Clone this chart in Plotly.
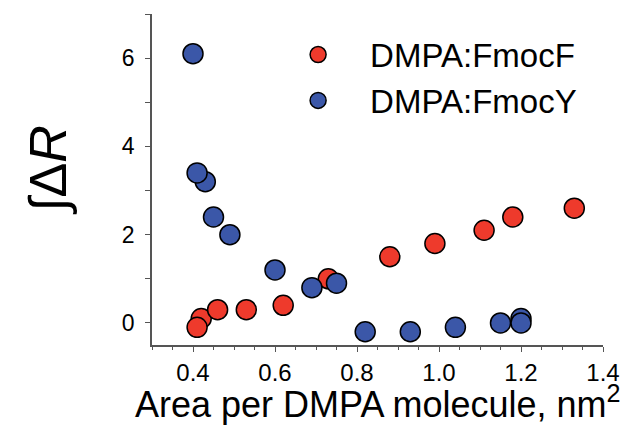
import plotly.graph_objects as go

# Data
fmocF_x = [0.42, 0.41, 0.46, 0.53, 0.62, 0.73, 0.88, 0.99, 1.11, 1.18, 1.33]
fmocF_y = [0.1, -0.1, 0.3, 0.3, 0.4, 1.0, 1.5, 1.8, 2.1, 2.4, 2.6]
fmocY_x = [0.40, 0.43, 0.41, 0.45, 0.49, 0.60, 0.69, 0.75, 0.82, 0.93, 1.04, 1.15, 1.20, 1.20]
fmocY_y = [6.1, 3.2, 3.4, 2.4, 2.0, 1.2, 0.8, 0.9, -0.2, -0.2, -0.1, 0.0, 0.1, 0.0]
series_names = ["DMPA:FmocF", "DMPA:FmocY"]

RED = "#EE3A2C"
BLUE = "#3B57A8"
AXIS = "#555555"
FONT = "Liberation Sans, Arial, sans-serif"

fig = go.Figure()
fig.add_trace(go.Scatter(
    x=fmocF_x, y=fmocF_y, mode="markers", name=series_names[0],
    marker=dict(size=20, color=RED, line=dict(color="black", width=1.5)),
))
fig.add_trace(go.Scatter(
    x=fmocY_x, y=fmocY_y, mode="markers", name=series_names[1],
    marker=dict(size=20, color=BLUE, line=dict(color="black", width=1.5)),
))

# The page body adds an 8px offset, so margins are shifted by 8px.
fig.update_layout(
    width=630, height=425,
    margin=dict(l=144, r=35, t=6, b=88, autoexpand=False),
    paper_bgcolor="white", plot_bgcolor="white",
    font=dict(family=FONT, color="black"),
    showlegend=True,
    legend=dict(
        x=0.253, y=0.962, xanchor="left", yanchor="top",
        font=dict(size=33, family=FONT, color="black"),
        bgcolor="rgba(0,0,0,0)", itemwidth=94,
        tracegroupgap=0,
    ),
    xaxis=dict(
        range=[0.3, 1.4], tickmode="linear", tick0=0.4, dtick=0.2,
        tickformat=".1f",
        showgrid=False, zeroline=False,
        showline=True, linecolor=AXIS, linewidth=1.5,
        ticks="outside", ticklen=5, tickwidth=1.2, tickcolor=AXIS,
        tickfont=dict(size=24, family=FONT, color="black"),
        ticklabelstandoff=0,
        minor=dict(dtick=0.05, tick0=0.3, ticks="outside", ticklen=3,
                   tickwidth=1.2, tickcolor=AXIS, showgrid=False),
    ),
    yaxis=dict(
        range=[-0.5, 7], tickmode="linear", tick0=0, dtick=2,
        showgrid=False, zeroline=False,
        showline=True, linecolor=AXIS, linewidth=1.5,
        ticks="outside", ticklen=5, tickwidth=1.2, tickcolor=AXIS,
        tickfont=dict(size=23, family=FONT, color="black"),
        ticklabelstandoff=6,
        minor=dict(dtick=1, tick0=0, ticks="outside", ticklen=5,
                   tickwidth=1.2, tickcolor=AXIS, showgrid=False),
    ),
    annotations=[
        dict(text="Area per DMPA molecule, nm<sup>2</sup>", xref="paper", yref="paper",
             x=0.5, y=-0.172, xanchor="center", yanchor="middle", showarrow=False,
             font=dict(size=36, family=FONT, color="black")),
        dict(text="\u222b\u0394<i>R</i>", xref="paper", yref="paper",
             x=-0.23, y=0.53, xanchor="center", yanchor="middle", showarrow=False,
             textangle=-90, font=dict(size=52, family=FONT, color="black")),
    ],
)

fig.write_html("out.html")
